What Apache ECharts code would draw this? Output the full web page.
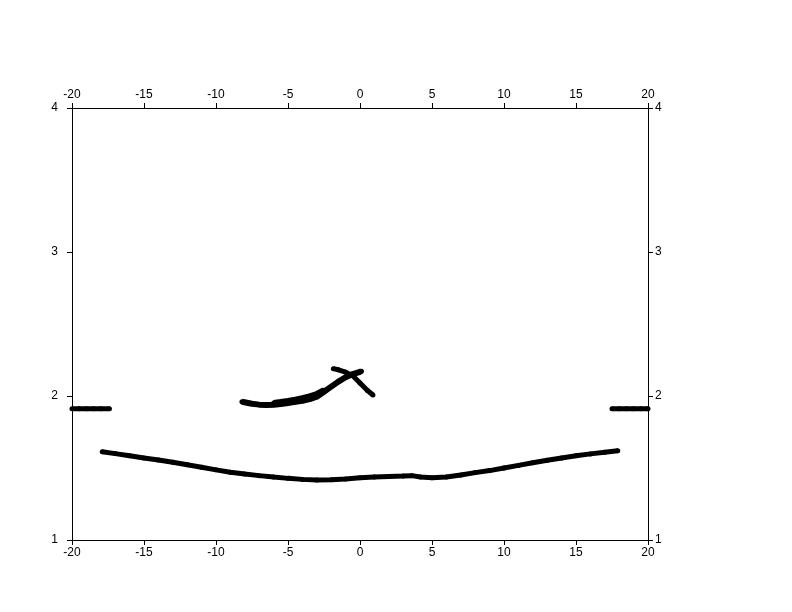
<!DOCTYPE html>
<html>
<head>
<meta charset="utf-8">
<script src="https://cdn.jsdelivr.net/npm/echarts@6/dist/echarts.min.js"></script>
<style>html,body{margin:0;padding:0;background:#fff;}#c{width:792px;height:612px;}</style>
</head>
<body>
<div id="c"></div>
<script>
// x range and ticks
var xTicks = [-20, -15, -10, -5, 0, 5, 10, 15, 20];
var yTicks = [1, 2, 3, 4];

// lower broad curve
var lowerCurve = [
  [-17.9,1.613],[-17,1.600],[-16,1.585],[-15,1.570],[-14,1.556],[-13,1.540],[-12,1.523],
  [-11,1.505],[-10,1.487],[-9,1.470],[-8,1.458],[-7,1.447],[-6,1.437],[-5,1.428],
  [-4,1.421],[-3,1.417],[-2,1.418],[-1,1.424],[0,1.432],[1,1.437],[2,1.441],[3,1.444],
  [3.6,1.447],[4.2,1.437],[5,1.433],[6,1.438],[7,1.452],[8,1.468],[9,1.482],[10,1.500],
  [11,1.518],[12,1.537],[13,1.554],[14,1.570],[15,1.585],[16,1.598],[17,1.610],[17.9,1.620]
];
// flat edge segments
var leftEdge = [[-20,1.912],[-19.5,1.912],[-19,1.912],[-18.5,1.912],[-18,1.911],[-17.4,1.911]];
var rightEdge = [[17.5,1.911],[18,1.911],[18.5,1.912],[19,1.912],[19.5,1.912],[20,1.912]];
// arrow-like feature
var arrowMain = [
  [-8.2,1.960],[-7.5,1.946],[-7,1.940],[-6.5,1.937],[-6,1.939],[-5.5,1.944],[-5,1.951],
  [-4.5,1.959],[-4,1.967],[-3.5,1.978],[-3,1.995],[-2.5,2.030],[-2,2.065],[-1.5,2.100],
  [-1,2.130],[-0.5,2.152],[0,2.168],[0.1,2.172]
];
var arrowBand = [
  [-6,1.952],[-5.5,1.958],[-5,1.966],[-4.5,1.975],[-4,1.985],[-3.5,1.998],[-3,2.014],[-2.5,2.040]
];
var arrowBack = [
  [-1.85,2.190],[-1.5,2.182],[-1,2.165],[-0.5,2.140],[0,2.090],[0.5,2.040],[0.9,2.007]
];

var chart = echarts.init(document.getElementById('c'), null, {renderer:'canvas'});
var font = {color:'#000', fontFamily:'Liberation Sans, Arial, sans-serif', fontSize:12};
function xAxis(pos){
  return {type:'value', position:pos, min:-20, max:20, interval:5,
    axisLine:{show:true, onZero:false, lineStyle:{color:'#000', width:1}},
    axisTick:{show:true, inside:false, length:5, lineStyle:{color:'#000'}},
    axisLabel:Object.assign({margin:7, showMinLabel:true, showMaxLabel:true,
      formatter:function(v){return xTicks.indexOf(v)>=0?String(v):'';}}, font),
    splitLine:{show:false}};
}
function yAxis(pos, m){
  return {type:'value', position:pos, min:1, max:4, interval:1,
    axisLine:{show:true, onZero:false, lineStyle:{color:'#000', width:1}},
    axisTick:{show:true, inside:false, length:5, lineStyle:{color:'#000'}},
    axisLabel:Object.assign({margin:m, showMinLabel:true, showMaxLabel:true,
      formatter:function(v){return yTicks.indexOf(v)>=0?String(v):'';}}, font),
    splitLine:{show:false}};
}
function ser(data, w){
  return {type:'line', data:data, xAxisIndex:0, yAxisIndex:0,
    lineStyle:{color:'#000', width:w}, smooth:false,
    symbol:'circle', symbolSize:5, showSymbol:true, showAllSymbol:true,
    itemStyle:{color:'#000', borderColor:'#000', borderWidth:0}, animation:false, silent:true};
}
chart.setOption({
  animation:false,
  backgroundColor:'#fff',
  grid:{left:72, right:144, top:108, bottom:72, containLabel:false},
  xAxis:[xAxis('bottom'), xAxis('top')],
  yAxis:[yAxis('left',14), yAxis('right',7)],
  series:[ser(lowerCurve,5), ser(leftEdge,5), ser(rightEdge,5), ser(arrowMain,6), ser(arrowBand,6), ser(arrowBack,5)]
});
</script>
</body>
</html>
